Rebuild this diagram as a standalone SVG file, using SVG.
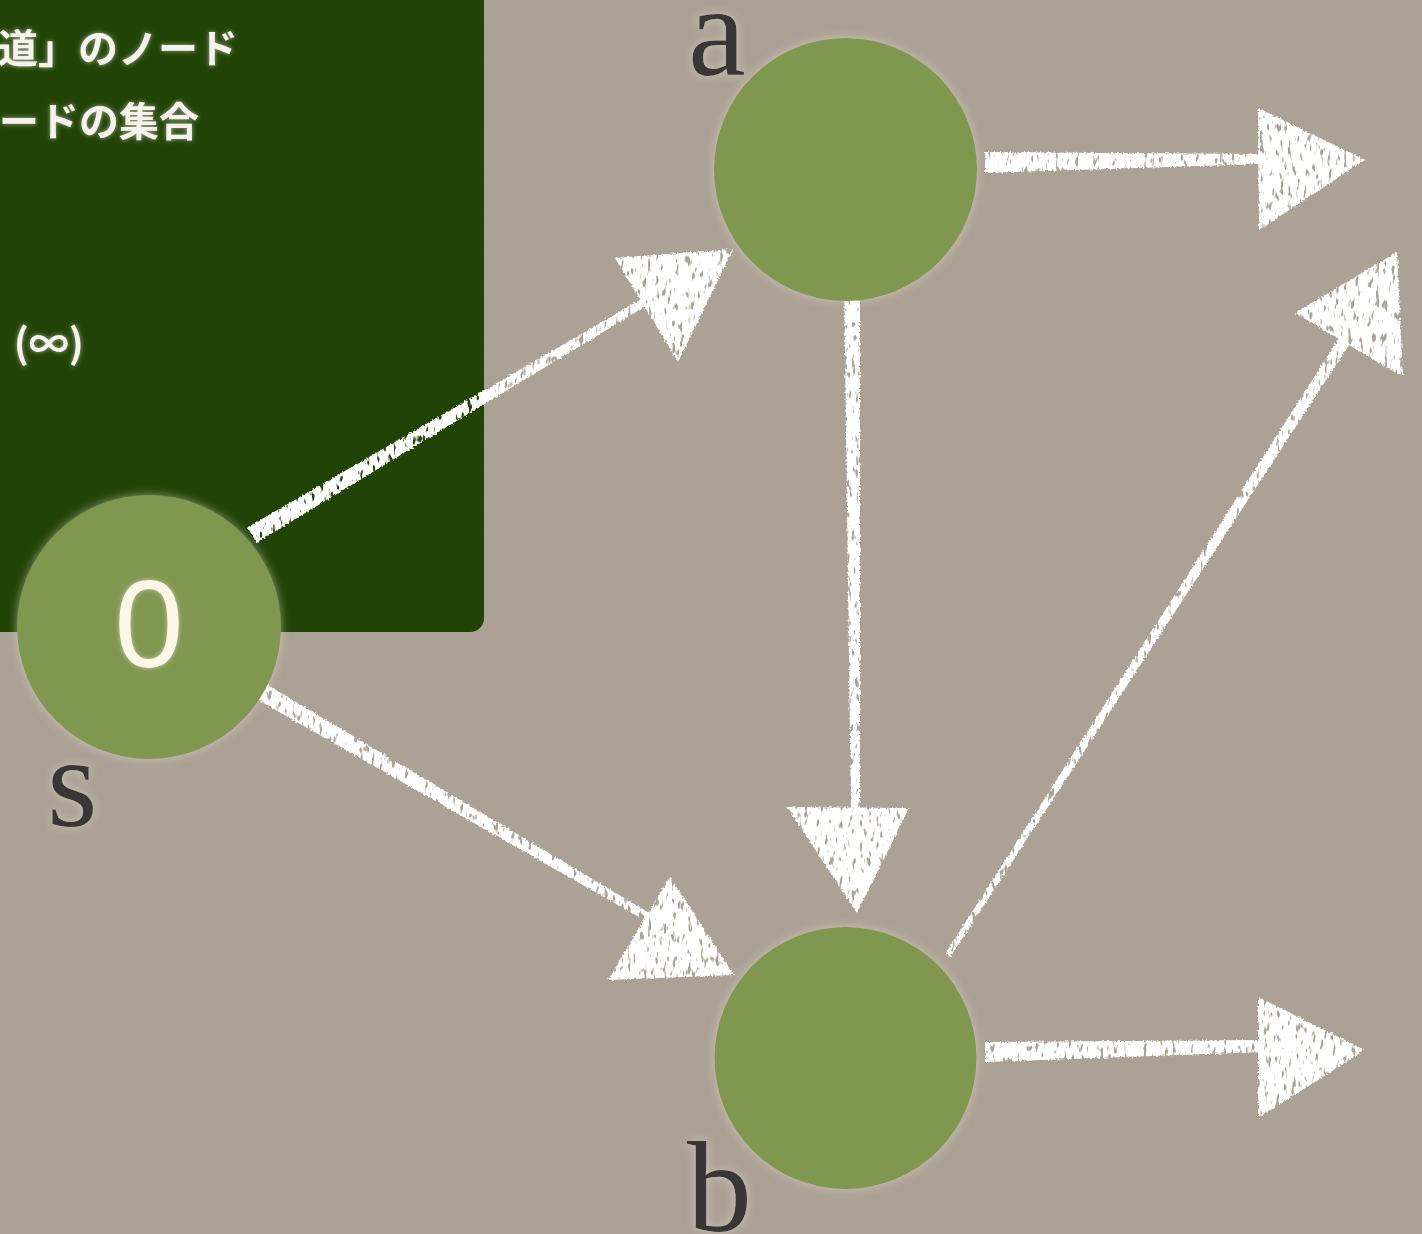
<svg xmlns="http://www.w3.org/2000/svg" width="1422" height="1234" viewBox="0 0 1422 1234">
  <style>
    .node { fill: #7f974f; }
    .lbl { font-family: "Liberation Serif", "Times New Roman", serif; font-size: 130px; fill: #3b3634; }
    .jp { font-family: "Noto Sans CJK JP", "Noto Sans", sans-serif; font-weight: 700; font-size: 40px; fill: #f6f3ee; }
    .num { font-family: "Liberation Sans", Arial, sans-serif; font-size: 124px; fill: #fff6ea; }
    .chalk { fill: #ffffff; }
  </style>
  <defs>
    <filter id="paper" x="0" y="0" width="100%" height="100%">
      <feTurbulence type="fractalNoise" baseFrequency="0.6" numOctaves="3" seed="2" result="n"/>
      <feColorMatrix in="n" type="matrix" values="0 0 0 0 0.35  0 0 0 0 0.32  0 0 0 0 0.28  0 0 0 0.22 0"/>
    </filter>
    <filter id="halo" x="-20%" y="-20%" width="140%" height="140%">
      <feGaussianBlur in="SourceAlpha" stdDeviation="5" result="b"/>
      <feFlood flood-color="#e8e0d2" flood-opacity="0.55"/>
      <feComposite in2="b" operator="in" result="g"/>
      <feMerge><feMergeNode in="g"/><feMergeNode in="SourceGraphic"/></feMerge>
    </filter>
    <filter id="glow" x="-20%" y="-20%" width="140%" height="140%">
      <feGaussianBlur in="SourceAlpha" stdDeviation="2.5" result="b"/>
      <feFlood flood-color="#f4efe6" flood-opacity="0.6"/>
      <feComposite in2="b" operator="in" result="g"/>
      <feMerge><feMergeNode in="g"/><feMergeNode in="SourceGraphic"/></feMerge>
    </filter>
    <filter id="chalkfx" x="-5%" y="-5%" width="110%" height="110%">
      <feTurbulence type="fractalNoise" baseFrequency="0.5" numOctaves="2" seed="3" result="n"/>
      <feDisplacementMap in="SourceGraphic" in2="n" scale="4" xChannelSelector="R" yChannelSelector="G" result="d"/>
      <feTurbulence type="fractalNoise" baseFrequency="0.25 0.09" numOctaves="2" seed="9" result="n2"/>
      <feColorMatrix in="n2" type="matrix" values="0 0 0 0 1  0 0 0 0 1  0 0 0 0 1  8 0 0 0 -2.2" result="m"/>
      <feComposite in="d" in2="m" operator="in"/>
    </filter>
  </defs>

  <rect x="0" y="0" width="1422" height="1234" fill="#ada295"/>
  <rect x="0" y="0" width="1422" height="1234" filter="url(#paper)"/>

  <g id="panel">
    <rect x="-20" y="-20" width="504" height="652" rx="14" fill="#214305"/>
    <g filter="url(#glow)">
      <text class="jp" x="238" y="63" text-anchor="end">道」のノード</text>
      <text class="jp" x="199" y="136" text-anchor="end">ードの集合</text>
      <text class="jp" x="84" y="358" text-anchor="end">(∞)</text>
    </g>
  </g>

  <g id="connectors" filter="url(#chalkfx)">
    <g id="e-s-a">
      <polygon class="chalk" points="247.4,527.3 646,296.6 650,303.4 256.6,542.7"/>
      <polygon class="chalk" points="615,258 733,249 678,362"/>
    </g>
    <g id="e-a-b">
      <polygon class="chalk" points="844,275 860,275 860,810 851,810"/>
      <polygon class="chalk" points="787,807 909,808 857,913"/>
    </g>
    <g id="e-s-b">
      <polygon class="chalk" points="254.5,677.2 672,926.5 668,933.5 245.5,692.8"/>
      <polygon class="chalk" points="608,980 670,877 734,975"/>
    </g>
    <g id="e-b-out1">
      <polygon class="chalk" points="945.5,953.4 1340,336.7 1350,343.3 950.5,956.6"/>
      <polygon class="chalk" points="1295,313 1397,252 1403,377"/>
    </g>
    <g id="e-a-out">
      <polygon class="chalk" points="985,152 1262,154 1262,164 985,173"/>
      <polygon class="chalk" points="1258,108 1365,160 1259,230"/>
    </g>
    <g id="e-b-out2">
      <polygon class="chalk" points="985,1042 1262,1040 1262,1052 985,1062"/>
      <polygon class="chalk" points="1258,997 1365,1050 1258,1118"/>
    </g>
  </g>

  <g id="node-s">
    <circle class="node" cx="149" cy="627" r="132" filter="url(#halo)"/>
    <text class="num" x="149" y="667" text-anchor="middle" filter="url(#glow)">0</text>
    <text class="lbl" x="47" y="826" filter="url(#halo)">s</text>
  </g>
  <g id="node-a">
    <circle class="node" cx="845.5" cy="169.5" r="131.5" filter="url(#halo)"/>
    <text class="lbl" x="688" y="75" filter="url(#halo)">a</text>
  </g>
  <g id="node-b">
    <circle class="node" cx="845.5" cy="1058" r="131" filter="url(#halo)"/>
    <text class="lbl" x="687" y="1231" filter="url(#halo)">b</text>
  </g>
</svg>
